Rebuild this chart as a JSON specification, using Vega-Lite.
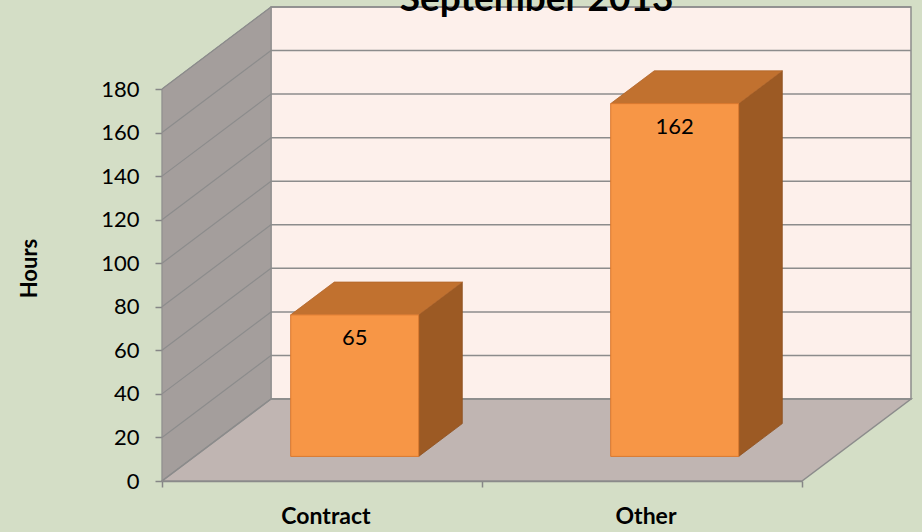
{
  "$schema": "https://vega.github.io/schema/vega-lite/v6.json",
  "width": 640,
  "height": 392,
  "autosize": {"type": "none"},
  "padding": {"left": 162, "top": 89, "right": 120, "bottom": 51},
  "background": "#D4DEC6",
  "params": [
    {"name": "DX", "value": 0.3406},
    {"name": "DY", "value": 37.65}
  ],
  "datasets": {
    "hours": [
      {"category": "Contract", "hours": 65},
      {"category": "Other", "hours": 162}
    ],
    "ticks": [
      {"v": 0}, {"v": 20}, {"v": 40}, {"v": 60}, {"v": 80},
      {"v": 100}, {"v": 120}, {"v": 140}, {"v": 160}, {"v": 180}
    ],
    "one": [{}]
  },
  "encoding": {
    "x": {
      "field": "x",
      "type": "quantitative",
      "scale": {"domain": [0, 2], "nice": false, "zero": false},
      "axis": {
        "values": [0, 1, 2],
        "labels": false,
        "title": null,
        "grid": false,
        "tickSize": 6,
        "tickColor": "#868686",
        "tickWidth": 1.5,
        "domainColor": "#868686",
        "domainWidth": 1.5
      }
    },
    "y": {
      "field": "y",
      "type": "quantitative",
      "scale": {"domain": [0, 180], "nice": false, "zero": false},
      "axis": {
        "values": [0, 20, 40, 60, 80, 100, 120, 140, 160, 180],
        "title": "Hours",
        "grid": false,
        "tickSize": 7,
        "tickColor": "#868686",
        "tickWidth": 1.5,
        "domainColor": "#868686",
        "domainWidth": 1.5,
        "labelFont": "Lato",
        "labelFontSize": 22,
        "labelColor": "#000000",
        "labelPadding": 16,
        "titleFont": "Lato",
        "titleFontSize": 22,
        "titleFontWeight": "bold",
        "titleColor": "#000000",
        "titleX": -133,
        "titleY": 179,
        "titleAngle": 270,
        "titleAlign": "center",
        "titleBaseline": "middle"
      }
    }
  },
  "layer": [
    {
      "data": {"name": "one"},
      "transform": [
        {"calculate": "DX", "as": "x"},
        {"calculate": "2 + DX", "as": "x2"},
        {"calculate": "DY", "as": "y"},
        {"calculate": "180 + DY", "as": "y2"}
      ],
      "mark": {"type": "rect", "fill": "#FDF0EB", "stroke": "#8C8C8C", "strokeWidth": 1.5},
      "encoding": {"x2": {"field": "x2"}, "y2": {"field": "y2"}}
    },
    {
      "data": {"name": "one"},
      "transform": [
        {"calculate": "[0, 1]", "as": "t"},
        {"flatten": ["t"]},
        {"calculate": "datum.t * DX", "as": "x"},
        {"calculate": "datum.t * DY", "as": "y"},
        {"calculate": "180 + datum.t * DY", "as": "y2"}
      ],
      "mark": {"type": "area", "orient": "vertical", "fill": "#A49E9C", "stroke": "#8C8C8C", "strokeWidth": 1},
      "encoding": {"y2": {"field": "y2"}}
    },
    {
      "data": {"name": "one"},
      "transform": [
        {"calculate": "[0, 1]", "as": "t"},
        {"flatten": ["t"]},
        {"calculate": "datum.t * DX", "as": "x"},
        {"calculate": "2 + datum.t * DX", "as": "x2"},
        {"calculate": "datum.t * DY", "as": "y"}
      ],
      "mark": {"type": "area", "orient": "horizontal", "fill": "#C0B5B2", "stroke": "#8C8C8C", "strokeWidth": 1.5},
      "encoding": {"x2": {"field": "x2"}}
    },
    {
      "data": {"name": "ticks"},
      "transform": [
        {"calculate": "DX", "as": "x"},
        {"calculate": "2 + DX", "as": "x2"},
        {"calculate": "datum.v + DY", "as": "y"}
      ],
      "mark": {"type": "rule", "stroke": "#8C8C8C", "strokeWidth": 1.5},
      "encoding": {"x2": {"field": "x2"}}
    },
    {
      "data": {"name": "ticks"},
      "transform": [
        {"calculate": "0", "as": "x"},
        {"calculate": "DX", "as": "x2"},
        {"calculate": "datum.v", "as": "y"},
        {"calculate": "datum.v + DY", "as": "y2"}
      ],
      "mark": {"type": "rule", "stroke": "#8C8C8C", "strokeWidth": 1.2},
      "encoding": {"x2": {"field": "x2"}, "y2": {"field": "y2"}}
    },
    {
      "data": {"name": "hours"},
      "transform": [
        {"window": [{"op": "row_number", "as": "n"}]},
        {"calculate": "[0.3, 0.7]", "as": "t"},
        {"flatten": ["t"]},
        {"calculate": "datum.n - 0.3 + datum.t * DX", "as": "x"},
        {"calculate": "datum.t * DY", "as": "y"},
        {"calculate": "datum.hours + datum.t * DY", "as": "y2"}
      ],
      "mark": {"type": "area", "orient": "vertical", "fill": "#9C5A24", "stroke": "#8E5120", "strokeWidth": 0.8},
      "encoding": {"y2": {"field": "y2"}, "detail": {"field": "category"}}
    },
    {
      "data": {"name": "hours"},
      "transform": [
        {"window": [{"op": "row_number", "as": "n"}]},
        {"calculate": "[0.3, 0.7]", "as": "t"},
        {"flatten": ["t"]},
        {"calculate": "datum.n - 0.7 + datum.t * DX", "as": "x"},
        {"calculate": "datum.n - 0.3 + datum.t * DX", "as": "x2"},
        {"calculate": "datum.hours + datum.t * DY", "as": "y"}
      ],
      "mark": {"type": "area", "orient": "horizontal", "fill": "#C1712F", "stroke": "#B0652A", "strokeWidth": 0.8},
      "encoding": {"x2": {"field": "x2"}, "detail": {"field": "category"}}
    },
    {
      "data": {"name": "hours"},
      "transform": [
        {"window": [{"op": "row_number", "as": "n"}]},
        {"calculate": "datum.n - 0.7 + 0.3 * DX", "as": "x"},
        {"calculate": "datum.n - 0.3 + 0.3 * DX", "as": "x2"},
        {"calculate": "0.3 * DY", "as": "y"},
        {"calculate": "datum.hours + 0.3 * DY", "as": "y2"}
      ],
      "mark": {"type": "rect", "fill": "#F79646", "stroke": "#D9782E", "strokeWidth": 1},
      "encoding": {"x2": {"field": "x2"}, "y2": {"field": "y2"}}
    },
    {
      "data": {"name": "hours"},
      "transform": [
        {"window": [{"op": "row_number", "as": "n"}]},
        {"calculate": "datum.n - 0.5 + 0.3 * DX", "as": "x"},
        {"calculate": "datum.hours + 0.3 * DY", "as": "y"}
      ],
      "mark": {"type": "text", "font": "Lato", "fontSize": 22, "color": "#000000", "baseline": "middle", "align": "center", "dy": 23},
      "encoding": {"text": {"field": "hours", "type": "quantitative"}}
    },
    {
      "data": {"name": "hours"},
      "transform": [
        {"window": [{"op": "row_number", "as": "n"}]},
        {"calculate": "datum.n - 0.5", "as": "x"},
        {"calculate": "0", "as": "y"}
      ],
      "mark": {"type": "text", "font": "Lato", "fontSize": 23, "fontWeight": "bold", "color": "#000000", "baseline": "middle", "align": "center", "dy": 36, "dx": 4},
      "encoding": {"text": {"field": "category", "type": "nominal"}}
    },
    {
      "data": {"name": "one"},
      "transform": [
        {"calculate": "1 + DX / 2", "as": "x"},
        {"calculate": "180 + DY", "as": "y"}
      ],
      "mark": {"type": "text", "text": "September 2013", "font": "Lato", "fontSize": 37, "fontWeight": "bold", "color": "#000000", "baseline": "alphabetic", "align": "center", "dy": 4}
    }
  ]
}
